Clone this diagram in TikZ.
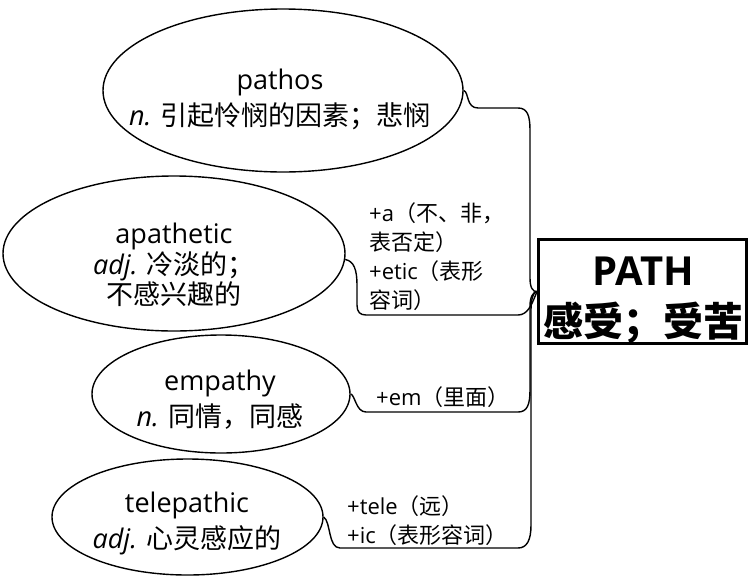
\documentclass[tikz,border=0pt]{standalone}
\usepackage{fontspec}
\setmainfont{Open Sans}
\newfontfamily\cjk{Noto Sans CJK SC}
\usetikzlibrary{shapes.geometric}
\tikzset{
  bubble/.style={draw, ellipse, line width=1.4pt, inner sep=0pt},
  wordtext/.style={align=center, font={\fontsize{27}{36}\selectfont}, inner sep=0pt},
  affix/.style={align=left, anchor=west, font={\fontsize{22}{29}\selectfont}, inner sep=0pt},
  link/.style={draw, line width=1.4pt},
  rootbox/.style={draw, line width=3pt, minimum width=208pt, minimum height=104pt, inner sep=0pt},
  roottext/.style={align=center, inner sep=0pt, font={\fontsize{40}{51}\selectfont\bfseries}}
}
\begin{document}
\begin{tikzpicture}[x=1pt,y=-1pt]
\useasboundingbox (0,0) rectangle (751,576);
% ellipses
\node[bubble, minimum width=360pt, minimum height=163pt] (pathos) at (283,90.5) {};
\node[bubble, minimum width=342pt, minimum height=155pt] (apathetic) at (174,253.5) {};
\node[bubble, minimum width=258pt, minimum height=118pt] (empathy) at (221,394) {};
\node[bubble, minimum width=271pt, minimum height=116pt] (telepathic) at (187.5,517) {};
% texts
\node[wordtext] (pathosT) at (280,99) {pathos\\{\itshape n.} {\cjk 引起怜悯的因素；悲悯}};
\node[wordtext, font={\fontsize{27}{29}\selectfont}] (apatheticT) at (174,265) {apathetic\\{\itshape adj.} {\cjk 冷淡的；}\\{\cjk 不感兴趣的}};
\node[wordtext] (empathyT) at (220,400) {empathy\\{\itshape n.} {\cjk 同情，同感}};
\node[wordtext] (telepathicT) at (187,523) {telepathic\\{\itshape adj.} {\cjk 心灵感应的}};
% root
\node[rootbox] (PATH) at (642.5,291.5) {};
\node[roottext] (PATHT) at (643,300) {PATH\\{\cjk\bfseries 感受；受苦}};
% affix labels
\node[affix] (affA) at (369,257) {+a{\cjk （不、非，}\\{\cjk 表否定）}\\+etic{\cjk （表形}\\{\cjk 容词）}};
\node[affix] (affB) at (376,397) {+em{\cjk （里面）}};
\node[affix] (affC) at (347,521) {+tele{\cjk （远）}\\+ic{\cjk （表形容词）}};
% connectors
\path[link] (pathos.0) .. controls (469,92) and (466,108) .. (478,108) -- (518,108)
  .. controls (527,108) and (530,115) .. (530,130) -- (530,278)
  .. controls (530,288) and (533,292) .. (PATH.west);
\path[link] (apathetic.-2) .. controls (354,261) and (357,270) .. (357,285) -- (357,305)
  .. controls (357,312) and (360,315) .. (366,315) -- (518,315)
  .. controls (528,315) and (532,304) .. (PATH.west);
\path[link] (empathy.0) .. controls (355,395) and (356,412) .. (366,412) -- (518,412)
  .. controls (527,412) and (530,405) .. (530,390) -- (530,306)
  .. controls (530,297) and (533,292) .. (PATH.west);
\path[link] (telepathic.0) .. controls (331,522) and (328,548) .. (340,548) -- (518,548)
  .. controls (527,548) and (531,540) .. (531,525) -- (531,310)
  .. controls (531,300) and (533,292) .. (PATH.west);
\end{tikzpicture}
\end{document}
